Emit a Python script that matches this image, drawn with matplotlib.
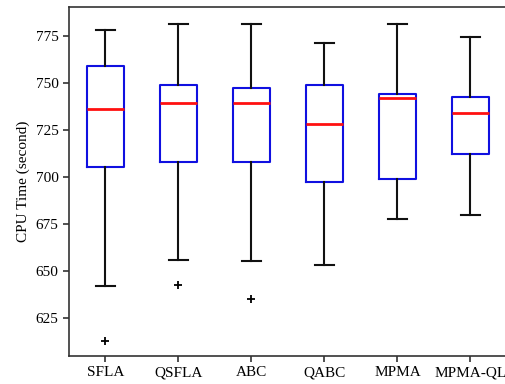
import matplotlib
matplotlib.use("Agg")
from matplotlib import pyplot as plt

# Box statistics (CPU time, seconds)
labels = ["SFLA", "QSFLA", "ABC", "QABC", "MPMA", "MPMA-QL"]
whisker_low = [642.2, 656.2, 655.7, 653.6, 678.0, 679.8]
q1 = [705.2, 708.1, 708.1, 697.5, 698.9, 712.6]
medians = [736.3, 739.4, 739.4, 728.2, 742.0, 733.9]
q3 = [759.4, 749.1, 747.7, 749.1, 744.3, 742.4]
whisker_high = [778.2, 781.7, 781.7, 771.1, 781.7, 774.3]
outliers = [[612.8], [642.5], [635.1], [], [], []]

plt.rcParams["font.family"] = ["Liberation Serif", "DejaVu Serif"]

stats = []
for i, name in enumerate(labels):
    stats.append({
        "label": name,
        "whislo": whisker_low[i],
        "q1": q1[i],
        "med": medians[i],
        "q3": q3[i],
        "whishi": whisker_high[i],
        "fliers": outliers[i],
    })

fig = plt.figure(figsize=(5.06, 3.84), dpi=100)
# axes reaches slightly past the right edge, as in the cropped reference
ax = fig.add_axes([69 / 506, 28 / 384, 438 / 506, 349 / 384])

ax.bxp(
    stats,
    widths=0.5,
    boxprops=dict(color="#1010e0", lw=1.5),
    medianprops=dict(color="#ff1010", lw=2),
    whiskerprops=dict(color="#111111", lw=1.5),
    capprops=dict(color="#111111", lw=1.5),
    flierprops=dict(marker="+", markeredgecolor="black", markersize=6, markeredgewidth=1.3),
)

ax.set_xlim(0.5, 6.5)
ax.set_ylim(605, 790.5)
ax.set_yticks([625, 650, 675, 700, 725, 750, 775])
ax.set_ylabel("CPU Time (second)", fontsize=11)
ax.tick_params(labelsize=11, width=1.2, length=4, color="#333333")
for sp in ax.spines.values():
    sp.set_linewidth(1.2)
    sp.set_color("#333333")

fig.savefig("out.png", dpi=100)
